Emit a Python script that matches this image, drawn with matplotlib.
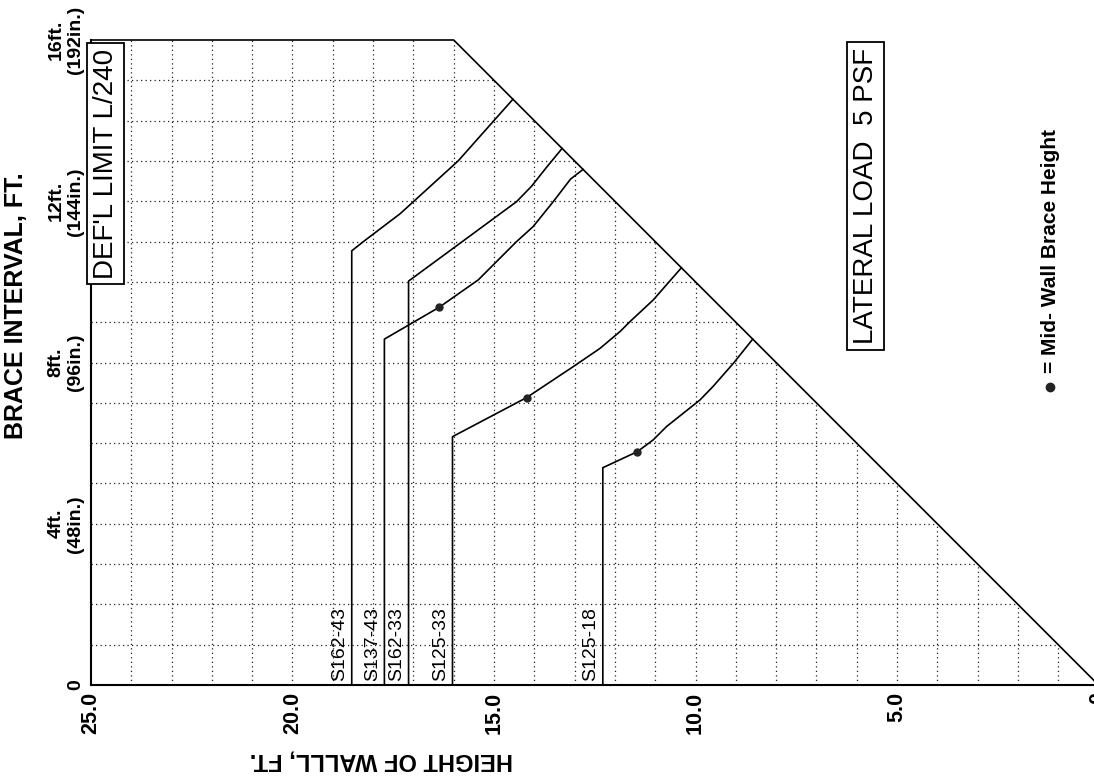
import numpy as np
import matplotlib
matplotlib.use("Agg")
import matplotlib.pyplot as plt

plt.rcParams["font.family"] = ["Liberation Sans", "DejaVu Sans"]

# curves: (height of wall ft, brace interval ft)
names = ["S162-43", "S137-43", "S162-33", "S125-33", "S125-18"]
h_s162_43 = [18.53, 18.53, 18.24, 17.33, 17.00, 15.89, 15.02, 14.53]
b_s162_43 = [0.0, 10.77, 11.00, 11.69, 11.99, 13.00, 13.98, 14.53]
h_s137_43 = [17.72, 17.72, 16.36, 15.39, 14.44, 14.03, 13.53, 13.10, 12.79]
b_s137_43 = [0.0, 8.58, 9.37, 10.05, 11.00, 11.37, 11.99, 12.55, 12.79]
h_s162_33 = [17.12, 17.12, 15.84, 14.44, 14.07, 13.69, 13.31]
b_s162_33 = [0.0, 10.02, 10.96, 11.99, 12.37, 12.85, 13.31]
h_s125_33 = [16.03, 16.03, 14.19, 13.03, 12.37, 11.87, 11.62, 11.05, 10.35]
b_s125_33 = [0.0, 6.16, 7.13, 7.90, 8.35, 8.77, 9.02, 9.55, 10.35]
h_s125_18 = [12.30, 12.30, 11.44, 11.05, 10.72, 9.89, 9.57, 9.06, 8.58]
b_s125_18 = [0.0, 5.39, 5.79, 6.08, 6.41, 7.07, 7.40, 7.98, 8.58]

# mid-wall brace height points
dot_h = [16.36, 14.19, 11.44]
dot_b = [9.37, 7.13, 5.79]

# chart limits
h_max = 25.0
b_max = 16.0

xticks = [25, 20, 15, 10, 5, 0]
xticklabels = ["25.0", "20.0", "15.0", "10.0", "5.0", "0"]
yticks = [0, 4, 8, 12, 16]
yticklabels = ["0", "4ft.\n(48in.)", "8ft.\n(96in.)", "12ft.\n(144in.)",
               "16ft.\n(192in.)"]

W, H = 1094, 780
fig = plt.figure(figsize=(W / 100, H / 100), dpi=100)
ax = fig.add_axes([91 / W, 95 / H, (1098.5 - 91) / W, 645 / H])
ax.set_xlim(h_max, 0)
ax.set_ylim(0, b_max)

# dotted grid, clipped to the chart polygon
grid_kw = dict(color="#222222", lw=0.9, ls=(0, (1, 2.6)), zorder=1)
for g in np.arange(1, h_max):
    ax.plot([g, g], [0, min(g, b_max)], **grid_kw)
for g in np.arange(1, b_max):
    ax.plot([h_max, g], [g, g], **grid_kw)

# outline: top edge and diagonal
ax.plot([h_max, b_max, 0], [b_max, b_max, 0], color="black", lw=1.2,
        clip_on=False, zorder=3)

curves = [(h_s162_43, b_s162_43), (h_s137_43, b_s137_43),
          (h_s162_33, b_s162_33), (h_s125_33, b_s125_33),
          (h_s125_18, b_s125_18)]
for name, (hh, bb) in zip(names, curves):
    ax.plot(hh, bb, color="black", lw=1.2, zorder=3)
    ax.text(hh[0] + 0.08, 0.1, name, rotation=90, ha="right", va="bottom",
            fontsize=14, zorder=4)

ax.plot(dot_h, dot_b, "o", color="#222222", ms=5, zorder=5)

for s in ["top", "right"]:
    ax.spines[s].set_visible(False)
for s in ["left", "bottom"]:
    ax.spines[s].set_linewidth(1.5)

ax.set_xticks(xticks)
ax.set_xticklabels(xticklabels, rotation=90, fontsize=15.5, fontweight="bold",
                   va="top")
ax.set_yticks(yticks)
ax.set_yticklabels(yticklabels, rotation=90, fontsize=14, fontweight="bold",
                   va="center", ha="right", multialignment="center")
ax.tick_params(length=0, pad=5)

ax.set_xlabel("HEIGHT OF WALLL, FT.", rotation=180, fontsize=17,
              fontweight="bold")
ax.xaxis.set_label_coords((381 - 91) / (1098.5 - 91), -0.098)
ax.set_ylabel("BRACE INTERVAL, FT.", fontsize=18, fontweight="bold")
ax.yaxis.set_label_coords((28 - 91) / (1098.5 - 91), 0.588)

ax.text(24.63, 12.93, "DEF'L LIMIT L/240", rotation=90, ha="center",
        va="center", fontsize=20,
        bbox=dict(boxstyle="square,pad=0.2", fc="white", ec="black", lw=1.3),
        zorder=6)
ax.text(5.78, 12.13, "LATERAL LOAD  5 PSF", rotation=90, ha="center",
        va="center", fontsize=20,
        bbox=dict(boxstyle="square,pad=0.2", fc="white", ec="black", lw=1.3),
        zorder=6)

# legend for the brace dots
ax.plot([1.2], [7.4], "o", color="#222222", ms=6, clip_on=False)
ax.text(1.2, 7.75, "= Mid- Wall Brace Height", rotation=90, ha="center",
        va="bottom", fontsize=15, fontweight="bold")

fig.savefig("out.png", dpi=100)
